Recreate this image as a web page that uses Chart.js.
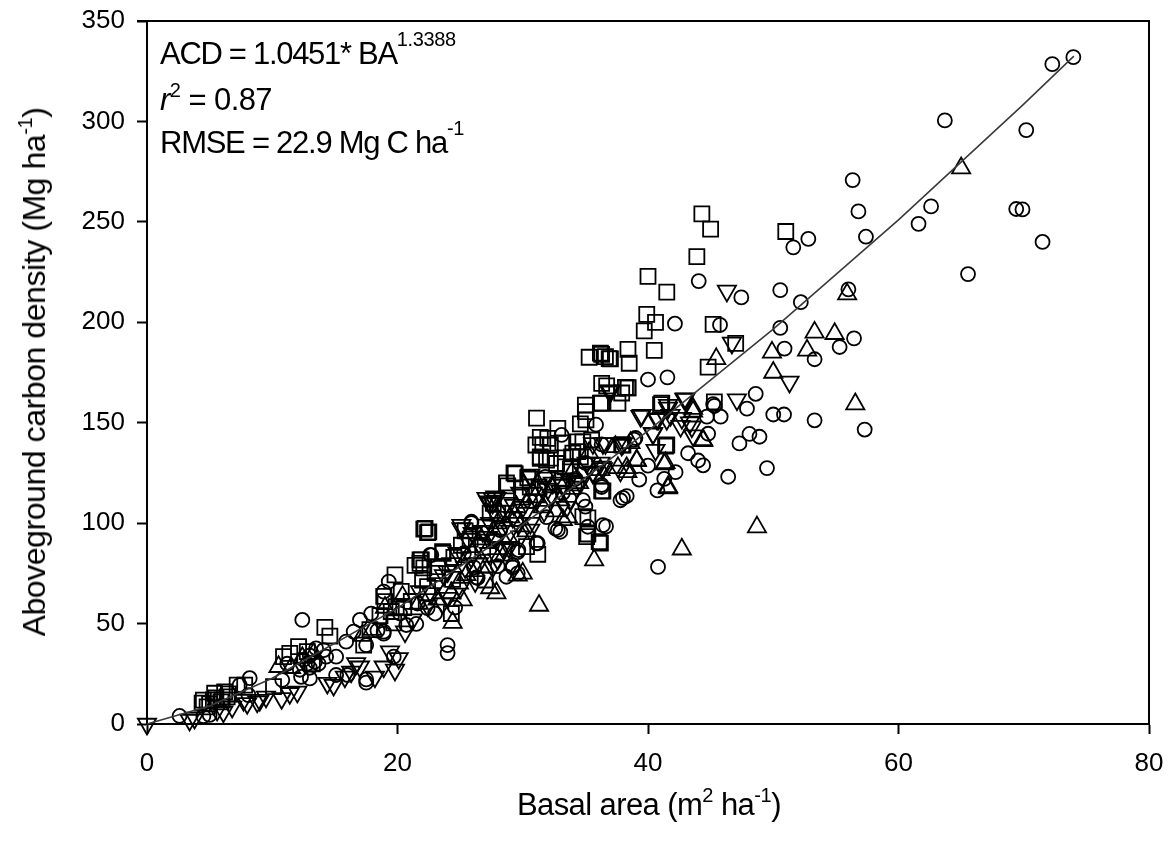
<!DOCTYPE html>
<html>
<head>
<meta charset="utf-8">
<title>Aboveground carbon density vs basal area</title>
<script src="https://cdn.jsdelivr.net/npm/chart.js@4"></script>
<style>
  html, body { margin: 0; padding: 0; background: #fff; }
  #wrap { position: relative; width: 1169px; height: 852px; overflow: hidden; font-family: "Liberation Sans", Arial, sans-serif; color: #000; }
  canvas { position: absolute; left: 0; top: 0; }
  .txt { position: absolute; white-space: nowrap; font-size: 31px; line-height: 1; }
  .txt sup { font-size: 20px; line-height: 0; vertical-align: baseline; position: relative; top: -13px; letter-spacing: -0.4px; }
  .txt sup.hi { top: -18px; }
</style>
</head>
<body>
<div id="wrap">
  <canvas id="chart" width="1169" height="852"></canvas>
  <div class="txt" style="left:160px;top:38px;letter-spacing:-1.3px">ACD = 1.0451* BA<sup class="hi">1.3388</sup></div>
  <div class="txt" style="left:160px;top:84px;letter-spacing:-0.6px"><i>r</i><sup>2</sup> = 0.87</div>
  <div class="txt" style="left:160px;top:127px;letter-spacing:-1.26px">RMSE = 22.9 Mg C ha<sup class="hi">-1</sup></div>
  <div class="txt" style="left:517px;top:789px;letter-spacing:-0.6px">Basal area (m<sup>2</sup> ha<sup>-1</sup>)</div>
  <div class="txt" id="ytitle" style="left:34px;top:372px;font-size:32px;letter-spacing:-0.43px;transform:translate(-50%,-50%) rotate(-90deg)">Aboveground carbon density (Mg ha<sup>-1</sup>)</div>
</div>
<script>
// values as [basal area, carbon density]
const circles = [
  [73.96,332],[72.28,328.5],[63.7,300.5],[70.2,295.7],[56.34,270.8],[56.8,255.2],[57.4,242.6],[62.6,257.7],
  [61.6,249],[69.4,256.4],[69.9,256.2],[71.5,240],[65.55,224],[52.8,241.5],[51.6,237.3],[44.05,220.5],
  [47.45,212.4],[50.56,216],[52.2,210],[56,216.4],[42.15,199.3],[45.75,198.7],[50.56,197.2],[50.9,186.9],
  [56.45,192],[55.3,187.7],[53.3,181.6],[40,171.5],[41.55,172.6],[48.6,164.4],[47.9,157],[45.2,159.3],
  [45.3,158.4],[44.7,153],[45.8,153],[50,154.1],[50.86,154.1],[53.3,151.2],[57.3,146.6],[44.8,144.5],
  [48.1,144.4],[48.9,143],[47.3,139.7],[43.2,134.8],[44,131.2],[44.4,128.8],[49.5,127.4],[46.4,123.1],
  [40,128.6],[42.2,125.4],[39.3,121.7],[40.75,116.3],[41.3,122],[38.3,113.5],[38,112.6],[37.8,111.4],
  [36.65,98.4],[40.8,78.2],[38.9,141.6],[35.85,149],[33.1,143.9],[36.3,139.2],[36.3,119],[34.8,111.5],
  [35,108.2],[32.6,97.4],[33,95.7],[35.2,98.2],[31.1,90],[25.9,100],[29.65,86.6],[22.6,84.2],
  [2.6,4],[12.4,51.8],[8.2,22.8],[5,4.5],[19.3,70.9],[18.9,65.9],[17.9,55],[17,51.8],[16.5,46],[15.9,41],
  [18.9,46],[18.9,45],[17.5,39.3],[20.7,49.3],[21.5,49.8],[17.5,20.6],[17.5,22.2],[15.1,24.4],[16,24.4],
  [19.7,33.5],[15.1,33.5],[14.3,33.5],[13.5,37.7],[14.1,36.8],[13,22.7],[12.3,23.5],[10.8,21.9],[13,28],
  [12.5,32],[11.2,30],[8.1,14.4],[7.4,19.4],[4.5,3.9],[24,39.3],[24,35.3],[25.9,100.7],[26.4,72.7],
  [28.7,73.3],[32.8,96.6],[36.4,99],[31.2,90],[31.9,103],[31.8,123],[28.2,96.5],[26.8,95],[39,142.4],
  [22.7,84.1],[36.3,118],[12.8,30],[12.2,27],[13.4,31],[18.4,46.5],[23,55],[24.6,58],[29.2,78],
  [25.3,85],[27.7,92],[29.5,102],[30.6,111],[33.2,115],[34.2,122],[21.6,60],[20.2,55],[26.1,78],[35,130],
  [13,34],[13.7,30],[26.3,73],[28,78.6],[29.2,79],[29.6,75],[29.6,85.6],[22.4,57.7]
];
const squares = [
  [44.3,254],[45,246.4],[51,245.2],[43.9,232.7],[40,222.9],[41.5,215],[39.9,203.9],[40.6,200],[39.7,195.7],
  [45.2,199],[47,189.5],[38.4,186.5],[40.5,186],[38.5,179.6],[37,181.8],[36.6,182.9],[36.3,184],[44.8,177.7],
  [38.4,167.4],[37.9,164.8],[37.6,159.7],[36.3,159.7],[41,159],[45.3,160.4],[41.4,138.3],[37.9,139],[36.4,116],
  [36.2,90],[35.3,182.6],[36.2,184.6],[36.9,181.9],[36.3,169.6],[36.7,168.3],[38.2,167.6],[35,158.8],[35,155.5],
  [31.1,152.3],[34.6,149.4],[35.05,151.4],[32.8,147.2],[31.4,142.7],[32,142.2],[31.05,138.9],[31.6,138.9],
  [32.2,138.9],[34.3,140.5],[34.8,140.5],[35.5,141.4],[31.4,132.3],[31.9,131.4],[32.7,129.7],[33.9,133],
  [34.4,135.6],[29.4,124.5],[30.4,122.6],[28.8,118.6],[36.3,116.1],[34.8,103.2],[35.2,94.6],[22.2,97.4],
  [22.5,95.7],[23.65,85],[21.8,81.7],[27.65,109.9],[27.4,105],[30.3,88.3],[31.2,84.5],[14.2,48.1],[14.6,43.8],
  [12.1,38.5],[11.4,35.2],[10.9,33.5],[17.3,39.3],[19.8,74.2],[22.1,97],[22.4,95.3],[21.8,80],[22.1,77.7],
  [19.7,50.3],[19,60.9],[19.9,58.4],[10.1,18.6],[7.2,19.4],[6.2,16],[5.4,15.3],[4.5,11.9],[4.4,10.4],[7.8,19.4],
  [21.4,79],[21.9,81.7],[23.6,85.8],[25.1,89],[22,71.7],[22.4,68.4],[23.2,78.3],[29.3,125],[28.7,120],
  [31.4,133],[32.2,132.4],[34,134.9],[34.6,133],[35.2,102.6],[35.1,93.3],[36.1,90.8],[41.1,159.8],[41.5,138.9],
  [36.2,159.8],[38.4,167.3],[38,138.9],[4.8,8.5],[5.3,12],[5.9,11],[6.4,13.5],[21.1,61],[20.5,58],[25.4,96.2],
  [26.8,88],[31.3,118],[12.8,36],[13.2,30],[17.8,47],[18.9,63.5],[33.4,128],[33.2,121],[24.4,72],
  [25.8,92],[27,98],[28,105],[29.9,113],[33.2,140],[33.8,127],[34.1,120],[30.6,118],[24.5,83],[23,75],
  [20.3,66],[19.5,56],[18.6,54],[5,10],[5.5,13],[6.5,15],[6,12],[27,71.7],[24.3,55]
];
const trianglesUp = [
  [65,276.8],[55.9,214],[53.3,195],[54.9,194.3],[45.45,181.8],[49.9,185],[52.7,186],[50,175],[56.55,159.3],
  [48.7,98],[42.7,87],[44.4,141],[39.1,131],[41.3,129.4],[38.35,125.5],[41.6,117.4],[43.6,155.6],[31.3,59],
  [35.7,81.6],[10.5,28.5],[20.4,63.4],[27.4,67.7],[27.9,65.2],[25.2,61.7],[25.5,74.2],[24.3,65.2],[31.6,108],
  [33.2,101.6],[33.6,103],[33,111.5],[29,103],[39.1,131.4],[41.4,130],[38.3,127.5],[37.6,127.5],[41.6,118.1],
  [44.4,141.4],[43.6,157],[36.2,126.5],[24.4,50.5],[19,58],[21.7,60],[12.4,33],[30,75],[28.5,84],[26,85],[34.5,120],
  [26.7,92],[28,100],[29.5,108],[31,113],[32.3,118],[33.9,125],[35.3,135],[37.4,138],[38.6,140],[27,78],
  [24.9,70],[23.2,62],[30.3,96],[32.6,106],[11.5,28],[13.3,35],[18,47],[17.2,44],[29.6,74]
];
const trianglesDown = [
  [46.3,215.6],[46.7,189.7],[51.3,170.3],[47.1,161.5],[42.9,161.8],[41.6,157.4],[39.4,153.3],[40.8,151.7],
  [41.5,151.7],[42.6,148.3],[43.6,143.6],[40.4,144.5],[40.6,136.4],[37.8,126],[36.9,165.8],[43.35,150],
  [25.1,97.4],[27.25,110.7],[27.8,113.2],[30.6,123.1],[36.4,127.3],[37,165.4],[36.6,139.7],[37.9,138.9],[35.6,125.6],
  [0,0],[20.1,32.7],[19.4,36],[19.8,26.9],[18.2,23.5],[18.9,28.5],[17,28.5],[16.7,30.2],[14.9,19.4],[14.4,20.4],
  [15.8,23.5],[16.3,26],[11.4,15.3],[10.75,12.8],[12,16],[6.1,6.1],[3.4,2],[8,10.3],[8.8,11.1],[9,11.9],[7.7,11.9],
  [25.1,99],[27.6,110],[27.1,112.5],[27.9,112.5],[30.6,124],[31.9,122.5],[33.2,119],[34.6,120],[36.3,128],[35.6,125],
  [27.6,112.5],[28.7,110],[29.8,115],[31.1,111.5],[32.3,114],[33.5,108],[30.6,100],[27.4,100],[28.4,98],[29.2,103],
  [29.8,93.3],[27.9,91.6],[27.4,110],[39.5,153.8],[40.7,152],[40.4,144.8],[41.8,153.8],[43,162],[42.7,152.3],
  [43.5,148],[37,166],[38,139.7],[36.4,139.7],[36.2,130],[41.6,158.8],[35.6,139.7],[24.8,85],[25.9,83],[26.5,90],
  [23.2,70],[24,76],[25.4,78],[26.2,71],[28.5,87],[30.2,105],[32,117],[33.8,112],[34.9,125],[29,96],[31.7,106],
  [21.2,52],[22.4,59],[20.6,46],[23.6,60],[5.6,7],[6.8,8.5],[9.5,13.5],[3.8,3],
  [25.6,92],[26,95],[26.8,96],[27.2,93],[28,103],[28.6,106],[29.3,109],[30,108],[30.8,115],[31.5,118],
  [32.4,120],[33,116],[33.7,122],[34.3,118],[35.1,130],[28,82],[28.9,88],[29.6,100],[26.5,80],[27.3,85],
  [24.3,80],[23.7,74],[22.7,65],[21.8,66],[25,67.7],[24,62.7],[28.4,88],[27.6,78.2],[30.6,96.6]
];
// fitted curve
const fitLine = [[0,0],[5,9],[10,22.8],[20,57.7],[30,99.3],[40,145.9],[50,196.6],[60,251],[70,308.6],[74,332.5]];
const xTicks = [0, 20, 40, 60, 80];
const yTicks = [0, 50, 100, 150, 200, 250, 300, 350];

const toPoints = (list) => list.map((p) => ({ x: p[0], y: p[1] }));

function markerSet(list, pointStyle, radius, rotation) {
  return {
    data: toPoints(list), pointStyle, pointRadius: radius, pointRotation: rotation,
    pointBorderColor: "#000", pointBackgroundColor: "rgba(0,0,0,0)", pointBorderWidth: 1.8,
    showLine: false, clip: false
  };
}

// the plot box has a plain line on the top and right sides too
const boxLines = {
  id: "boxLines",
  afterDatasetsDraw(chart) {
    const a = chart.chartArea, ctx = chart.ctx;
    ctx.save();
    ctx.strokeStyle = "#000";
    ctx.lineWidth = 2;
    ctx.beginPath();
    ctx.moveTo(a.left - 10, a.top);
    ctx.lineTo(a.right, a.top);
    ctx.lineTo(a.right, a.bottom);
    ctx.stroke();
    ctx.restore();
  }
};

const axisCommon = {
  type: "linear",
  border: { color: "#000", width: 2 },
  grid: { drawOnChartArea: false, drawTicks: true, tickLength: 10, tickColor: "#000", tickWidth: 2 }
};

// keep the plot box where it is: tick labels may hang over its edges
function fixSize(s, size) {
  if (s.isHorizontal()) s.height = size; else s.width = size;
  s.paddingLeft = s.paddingRight = s.paddingTop = s.paddingBottom = 0;
}

new Chart(document.getElementById("chart"), {
  type: "scatter",
  data: {
    datasets: [
      { data: toPoints(fitLine), showLine: true, borderColor: "#3a3a3a", borderWidth: 1.6, pointRadius: 0, clip: false, tension: 0 },
      markerSet(circles, "circle", 7, 0),
      markerSet(squares, "rect", 10.6, 0),
      markerSet(trianglesUp, "triangle", 10.5, 0),
      markerSet(trianglesDown, "triangle", 10.5, 180)
    ]
  },
  options: {
    responsive: false,
    animation: false,
    layout: { autoPadding: false, padding: { left: 47, top: 21, right: 20, bottom: 52 } },
    plugins: { legend: { display: false }, tooltip: { enabled: false } },
    scales: {
      x: {
        ...axisCommon, min: 0, max: 80,
        afterFit: (s) => fixSize(s, 76),
        afterBuildTicks: (s) => { s.ticks = xTicks.map((v) => ({ value: v })); },
        ticks: { color: "#000", font: { family: "Liberation Sans", size: 26 }, padding: 14, maxRotation: 0 }
      },
      y: {
        ...axisCommon, min: 0, max: 350,
        afterFit: (s) => fixSize(s, 100),
        afterBuildTicks: (s) => { s.ticks = yTicks.map((v) => ({ value: v })); },
        ticks: { color: "#000", font: { family: "Liberation Sans", size: 26 }, padding: 12 }
      }
    }
  },
  plugins: [boxLines]
});
</script>
</body>
</html>
